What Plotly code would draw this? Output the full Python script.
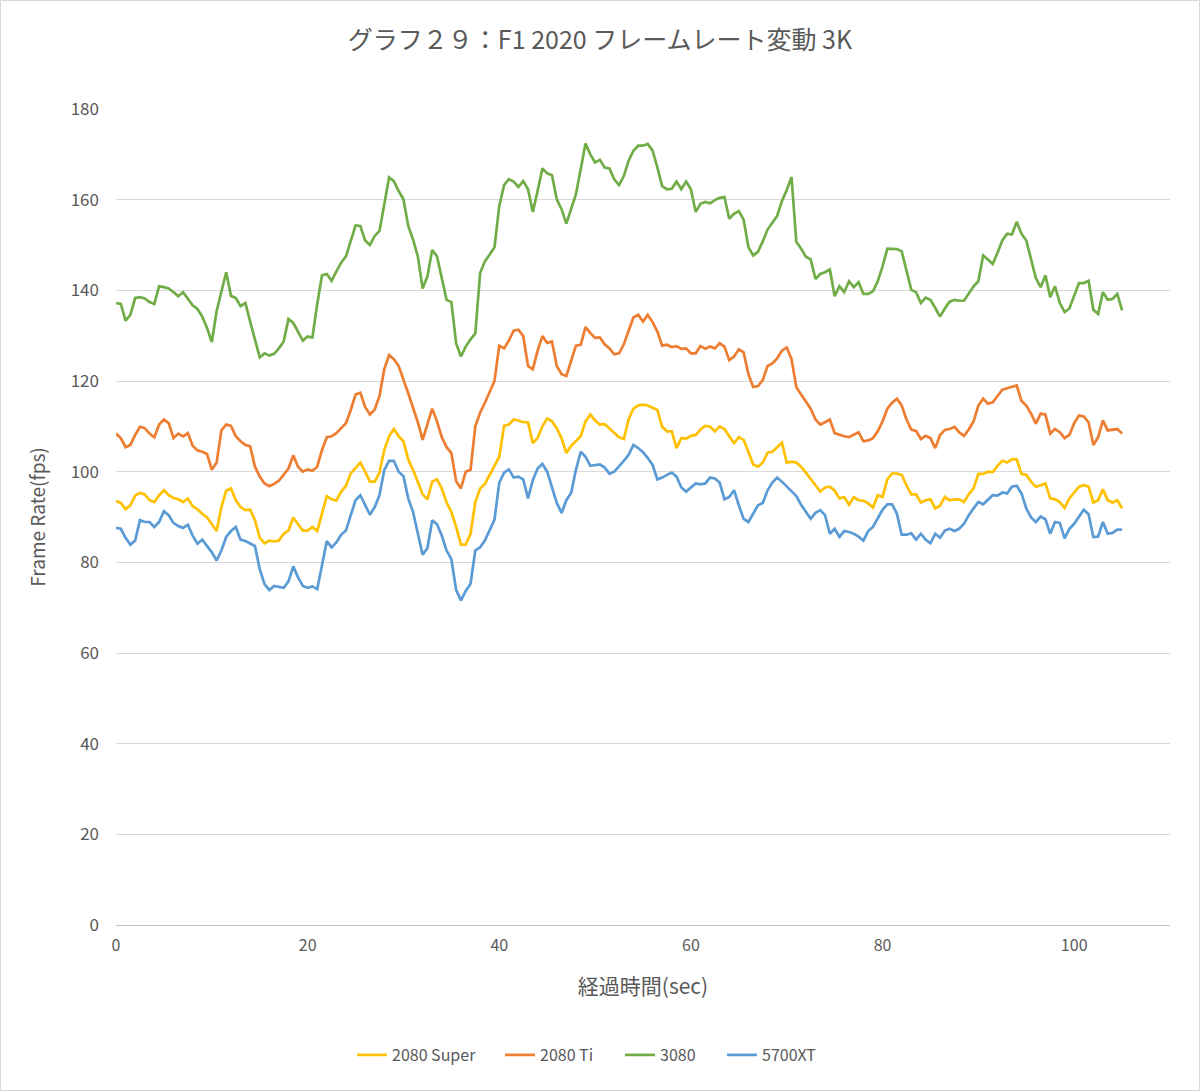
import plotly.graph_objects as go

# Sample times (seconds), one sample every 0.5 s
TIME = [i * 0.5 for i in range(211)]

S2080_SUPER = [
    93.5, 93.1, 91.7, 92.6, 94.7, 95.3, 95.0, 93.7, 93.3, 94.8,
    95.9, 94.8, 94.2, 93.9, 93.3, 94.1, 92.4, 91.7, 90.7, 89.9,
    88.4, 86.9, 92.2, 95.8, 96.3, 93.7, 92.2, 91.5, 91.6, 89.3,
    85.4, 84.2, 84.8, 84.6, 84.8, 86.3, 87.0, 89.9, 88.4, 87.0,
    87.0, 87.8, 86.9, 91.0, 94.6, 93.9, 93.6, 95.6, 96.9, 99.6,
    100.7, 102.0, 100.0, 97.8, 97.8, 99.8, 104.8, 107.8, 109.4, 107.8,
    106.7, 102.7, 100.4, 97.8, 95.0, 93.9, 97.8, 98.3, 96.3, 93.2,
    91.1, 87.8, 83.9, 83.9, 86.3, 93.3, 96.3, 97.3, 99.3, 101.1,
    103.3, 110.1, 110.4, 111.5, 111.3, 110.9, 110.9, 106.3, 107.4, 110.0,
    111.7, 111.1, 109.6, 107.4, 104.1, 105.7, 106.7, 107.8, 111.1, 112.6,
    111.3, 110.4, 110.5, 109.6, 108.5, 107.6, 107.2, 111.6, 113.9, 114.6,
    114.8, 114.6, 114.1, 113.6, 109.9, 108.9, 108.9, 105.2, 107.4, 107.3,
    107.9, 108.1, 109.3, 110.1, 109.9, 108.9, 110.0, 109.4, 107.8, 106.3,
    107.6, 107.0, 104.4, 101.6, 101.1, 102.0, 104.2, 104.4, 105.4, 106.4,
    102.0, 102.2, 102.0, 101.1, 99.8, 98.5, 97.0, 95.6, 96.5, 96.7,
    95.8, 94.1, 94.4, 92.7, 94.4, 93.7, 93.6, 93.0, 92.1, 94.8,
    94.4, 98.3, 99.6, 99.6, 99.3, 97.0, 95.0, 95.0, 93.2, 93.7,
    93.9, 91.9, 92.5, 94.4, 93.7, 93.9, 93.9, 93.3, 95.0, 96.3,
    99.5, 99.5, 100.0, 99.9, 101.3, 102.4, 102.0, 102.7, 102.7, 99.5,
    99.3, 97.8, 96.7, 97.0, 97.4, 94.1, 93.9, 93.3, 92.0, 94.1,
    95.3, 96.7, 97.0, 96.7, 93.2, 93.7, 96.1, 93.7, 93.2, 93.7,
    91.9,
]

S2080_TI = [
    108.4, 107.4, 105.4, 105.9, 108.1, 109.9, 109.6, 108.4, 107.6, 110.4,
    111.5, 110.7, 107.4, 108.4, 107.8, 108.5, 105.7, 104.7, 104.4, 103.9,
    100.4, 102.0, 109.1, 110.4, 110.1, 107.8, 106.7, 105.9, 105.6, 101.1,
    98.9, 97.4, 96.8, 97.3, 98.0, 99.3, 100.7, 103.6, 101.1, 100.0,
    100.5, 100.2, 101.1, 104.8, 107.6, 107.8, 108.5, 109.6, 110.7, 113.6,
    117.0, 117.4, 114.3, 112.6, 113.7, 116.7, 122.6, 125.7, 124.8, 123.3,
    120.4, 117.3, 114.1, 110.9, 107.0, 110.4, 113.9, 111.1, 107.6, 105.4,
    104.1, 97.9, 96.3, 100.0, 100.4, 110.0, 113.0, 115.2, 117.8, 120.0,
    127.8, 127.2, 128.9, 131.1, 131.3, 129.9, 123.3, 122.6, 126.7, 129.9,
    128.4, 128.7, 123.3, 121.5, 121.1, 124.4, 127.8, 128.0, 131.9, 130.6,
    129.5, 129.6, 128.1, 127.2, 125.9, 126.1, 128.1, 131.1, 134.0, 134.6,
    133.1, 134.6, 133.0, 130.9, 127.8, 128.0, 127.5, 127.7, 127.1, 127.2,
    126.1, 126.1, 127.7, 127.1, 127.6, 127.2, 128.3, 127.6, 124.6, 125.4,
    127.0, 126.3, 121.5, 118.7, 118.9, 120.2, 123.3, 123.9, 125.0, 126.7,
    127.4, 124.8, 118.7, 117.0, 115.3, 113.9, 111.5, 110.4, 110.9, 111.5,
    108.5, 108.1, 107.8, 107.6, 108.1, 108.7, 106.7, 106.9, 107.4, 108.9,
    111.1, 113.9, 115.2, 116.1, 114.6, 111.5, 109.3, 109.0, 107.2, 107.9,
    107.4, 105.2, 108.1, 109.2, 109.4, 109.9, 108.7, 107.9, 109.3, 111.1,
    114.6, 116.1, 115.0, 115.3, 116.7, 118.1, 118.4, 118.7, 119.0, 115.6,
    114.6, 112.8, 110.6, 112.8, 112.6, 108.4, 109.4, 108.7, 107.4, 108.1,
    110.7, 112.4, 112.2, 110.9, 105.9, 107.6, 111.3, 109.1, 109.3, 109.4,
    108.4,
]

S3080 = [
    137.2, 137.0, 133.3, 134.6, 138.3, 138.5, 138.2, 137.4, 137.0, 140.9,
    140.7, 140.4, 139.6, 138.7, 139.6, 138.2, 136.7, 135.9, 134.2, 131.7,
    128.6, 135.4, 139.8, 144.0, 138.8, 138.3, 136.5, 137.2, 133.1, 129.4,
    125.2, 126.1, 125.6, 126.0, 127.2, 128.7, 133.7, 132.8, 130.9, 128.9,
    129.8, 129.6, 137.0, 143.3, 143.6, 142.1, 144.2, 146.1, 147.5, 150.8,
    154.3, 154.2, 151.0, 150.0, 152.0, 153.1, 159.3, 164.9, 164.1, 161.9,
    160.1, 154.2, 151.2, 147.5, 140.4, 143.1, 148.9, 147.5, 142.7, 137.9,
    137.4, 128.3, 125.4, 127.6, 129.2, 130.5, 143.8, 146.4, 147.9, 149.5,
    158.6, 163.2, 164.5, 164.0, 162.8, 164.1, 162.3, 157.3, 161.9, 166.9,
    165.8, 165.4, 160.1, 157.9, 154.7, 157.9, 161.2, 166.7, 172.4, 170.0,
    168.2, 168.8, 167.1, 166.9, 164.5, 163.2, 165.2, 168.6, 170.8, 171.9,
    171.9, 172.3, 170.8, 167.1, 163.0, 162.3, 162.4, 164.0, 162.3, 164.0,
    162.3, 157.3, 159.1, 159.5, 159.2, 159.9, 160.4, 160.6, 155.8, 156.9,
    157.5, 155.6, 149.5, 147.7, 148.5, 150.8, 153.4, 154.9, 156.4, 159.7,
    162.1, 165.0, 150.7, 149.2, 147.4, 146.8, 142.5, 143.6, 144.0, 144.6,
    138.7, 140.9, 139.6, 142.0, 140.7, 141.8, 139.2, 139.2, 139.8, 142.0,
    145.3, 149.2, 149.2, 149.1, 148.6, 144.2, 140.1, 139.6, 137.2, 138.4,
    137.9, 136.1, 134.2, 136.0, 137.5, 137.9, 137.7, 137.7, 139.4, 140.9,
    142.0, 147.7, 146.8, 145.8, 148.3, 151.0, 152.5, 152.3, 155.1, 152.5,
    151.0, 146.6, 142.7, 140.7, 143.3, 138.5, 140.9, 137.2, 135.2, 136.0,
    138.8, 141.6, 141.6, 142.1, 135.7, 134.8, 139.6, 137.9, 138.1, 139.2,
    135.6,
]

S5700XT = [
    87.6, 87.4, 85.4, 83.9, 84.8, 89.3, 88.9, 88.9, 87.8, 88.9,
    91.3, 90.4, 88.7, 88.0, 87.6, 88.3, 85.9, 84.1, 85.0, 83.7,
    82.2, 80.4, 82.6, 85.6, 86.9, 87.8, 85.0, 84.7, 84.2, 83.6,
    78.5, 75.2, 73.9, 74.8, 74.6, 74.4, 75.8, 79.1, 76.7, 74.8,
    74.4, 74.7, 74.1, 79.5, 84.7, 83.3, 84.4, 86.1, 87.0, 90.4,
    93.7, 94.8, 92.6, 90.5, 92.2, 94.8, 100.4, 102.4, 102.4, 100.0,
    99.0, 94.1, 91.1, 86.7, 81.7, 83.1, 89.3, 88.4, 85.9, 82.6,
    80.7, 73.9, 71.6, 73.7, 75.3, 82.6, 83.3, 84.8, 87.0, 89.4,
    97.6, 99.8, 100.5, 98.7, 98.9, 98.3, 94.1, 98.1, 100.7, 101.7,
    100.0, 96.7, 93.1, 90.9, 93.7, 95.3, 100.4, 104.4, 103.3, 101.3,
    101.5, 101.6, 100.9, 99.5, 100.0, 101.1, 102.4, 103.7, 105.9, 105.2,
    104.3, 103.0, 101.5, 98.3, 98.7, 99.3, 99.8, 98.9, 96.5, 95.6,
    96.4, 97.4, 97.2, 97.4, 98.7, 98.5, 97.6, 93.9, 94.4, 95.9,
    92.6, 89.6, 88.9, 90.7, 92.6, 93.1, 95.9, 97.6, 98.7, 97.8,
    96.7, 95.8, 94.6, 92.7, 91.1, 89.6, 90.9, 91.5, 90.4, 86.3,
    87.4, 85.6, 86.9, 86.7, 86.3, 85.7, 84.8, 86.9, 87.8, 89.6,
    91.6, 92.8, 92.8, 90.7, 86.1, 86.1, 86.4, 85.0, 86.3, 85.0,
    84.2, 86.3, 85.4, 87.0, 87.4, 86.9, 87.4, 88.5, 90.4, 91.9,
    93.3, 92.8, 93.7, 94.8, 94.7, 95.4, 95.2, 96.7, 96.9, 95.2,
    91.9, 89.9, 88.9, 90.1, 89.5, 86.3, 88.9, 88.7, 85.3, 87.4,
    88.5, 90.0, 91.6, 90.6, 85.6, 85.7, 88.9, 86.3, 86.5, 87.2,
    87.2,
]

SERIES_NAMES = ["2080 Super", "2080 Ti", "3080", "5700XT"]
SERIES_COLORS = ["#FFC000", "#ED7D31", "#70AD47", "#5B9BD5"]
SERIES_DATA = [S2080_SUPER, S2080_TI, S3080, S5700XT]

X_TICKS = [0, 20, 40, 60, 80, 100]
Y_TICKS = [0, 20, 40, 60, 80, 100, 120, 140, 160, 180]

FONT = "Noto Sans CJK JP, Noto Sans, sans-serif"
GRAY = "#595959"
W, H = 1200, 1091

LEGEND_X = [352, 500, 620, 722]
LEGEND_KEYS = ["legend", "legend2", "legend3", "legend4"]

fig = go.Figure()
for name, color, vals, lkey in zip(SERIES_NAMES, SERIES_COLORS, SERIES_DATA, LEGEND_KEYS):
    fig.add_trace(go.Scatter(
        x=TIME, y=vals, name=name, mode="lines",
        line=dict(color=color, width=2.7), legend=lkey,
    ))

legend_common = dict(
    orientation="h", xanchor="left", xref="container",
    y=1 - 1055 / H, yanchor="middle", yref="container",
    font=dict(size=16, color=GRAY, family=FONT),
    bgcolor="rgba(0,0,0,0)", borderwidth=0, itemwidth=30,
)
legend_layout = {}
for lkey, lx in zip(LEGEND_KEYS, LEGEND_X):
    legend_layout[lkey] = dict(legend_common, x=lx / W)

fig.update_layout(
    width=W, height=H,
    paper_bgcolor="white", plot_bgcolor="white",
    margin=dict(l=116, r=30, t=109, b=166),
    font=dict(family=FONT, color=GRAY, size=16),
    title=dict(
        text="グラフ２９：F1 2020 フレームレート変動 3K",
        x=0.5, xanchor="center", xref="container",
        y=1 - 40 / H, yanchor="middle", yref="container",
        font=dict(size=25, color=GRAY, family=FONT),
    ),
    showlegend=True,
    xaxis=dict(
        range=[0, 110], tickmode="array", tickvals=X_TICKS,
        showgrid=False, zeroline=False,
        showline=True, linecolor="#BFBFBF", linewidth=1,
        ticks="", tickfont=dict(size=16, color=GRAY),
        ticklabelstandoff=6,
        title=dict(text="経過時間(sec)", font=dict(size=21, color=GRAY), standoff=24),
    ),
    yaxis=dict(
        range=[0, 180], tickmode="array", tickvals=Y_TICKS,
        showgrid=True, gridcolor="#D9D9D9", gridwidth=1,
        zeroline=False, showline=False,
        tickfont=dict(size=17, color=GRAY),
        ticks="", ticklabelstandoff=16,
        title=dict(text="Frame Rate(fps)", font=dict(size=19, color=GRAY), standoff=20),
    ),
    shapes=[dict(
        type="rect", xref="paper", yref="paper",
        x0=-115.5 / 1054, x1=1 + 29.5 / 1054, y0=-165.5 / 816, y1=1 + 108.5 / 816,
        line=dict(color="#D9D9D9", width=1), fillcolor="rgba(0,0,0,0)",
    )],
    **legend_layout,
)

fig.write_html(
    "out.html",
    config={"displayModeBar": False},
    post_script="document.body.style.margin='0';document.body.style.overflow='hidden';",
)
